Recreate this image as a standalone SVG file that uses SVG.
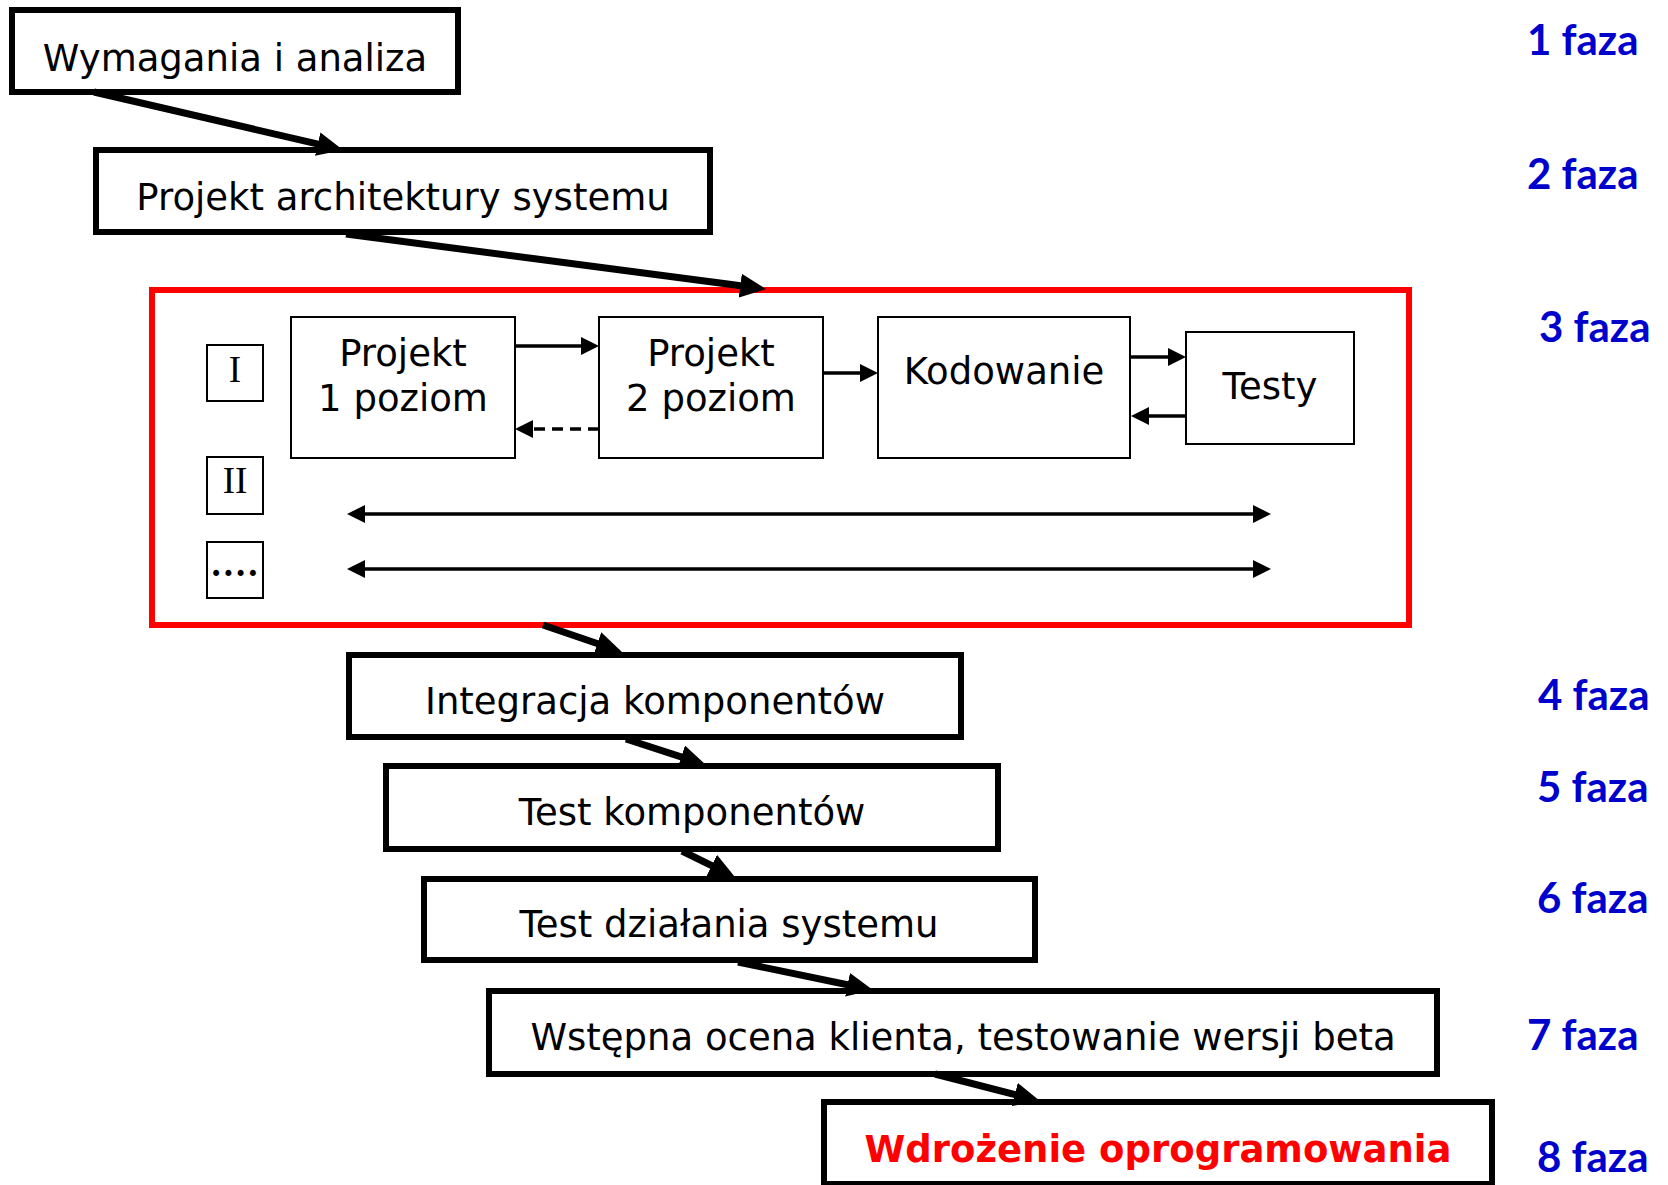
<svg xmlns="http://www.w3.org/2000/svg" width="1668" height="1185" viewBox="0 0 1668 1185">
  <style>
    .phase-box { fill: #ffffff; stroke: #000000; stroke-width: 6; }
    .inner-box { fill: #ffffff; stroke: #000000; stroke-width: 2; }
    .label { font-family: "DejaVu Sans", Verdana, sans-serif; font-size: 37px; fill: #000000; text-anchor: middle; }
    .roman { font-family: "Liberation Serif", "Times New Roman", serif; font-size: 37px; fill: #000000; text-anchor: middle; }
    .final { font-family: "DejaVu Sans", Verdana, sans-serif; font-size: 37px; font-weight: bold; fill: #ff0000; text-anchor: middle; }
    .faza { font-family: Lato, "Open Sans", sans-serif; font-size: 42px; font-weight: bold; fill: #0000cc; }
    .thick { stroke: #000000; stroke-width: 7; fill: none; marker-end: url(#headBig); }
    .thin { stroke: #000000; stroke-width: 3.5; fill: none; marker-end: url(#headSmall); }
    .both { stroke: #000000; stroke-width: 3.5; fill: none; marker-start: url(#headSmall); marker-end: url(#headSmall); }
    .dashed { stroke-dasharray: 11 7; }
  </style>
  <defs>
    <marker id="headBig" markerUnits="userSpaceOnUse" markerWidth="26" markerHeight="24" viewBox="0 0 26 24" refX="16" refY="12" orient="auto">
      <path d="M0,0 L26,12 L0,24 Z" fill="#000000"/>
    </marker>
    <marker id="headSmall" markerUnits="userSpaceOnUse" markerWidth="18" markerHeight="18" viewBox="0 0 18 18" refX="12" refY="9" orient="auto-start-reverse">
      <path d="M0,0 L18,9 L0,18 Z" fill="#000000"/>
    </marker>
  </defs>

  <rect width="1668" height="1185" fill="#ffffff"/>

  <!-- phase 1 -->
  <g id="wymagania">
    <rect class="phase-box" x="12" y="10" width="446" height="82"/>
    <text class="label" x="235" y="71">Wymagania i analiza</text>
  </g>

  <!-- phase 2 -->
  <g id="architektura">
    <rect class="phase-box" x="96" y="150" width="614" height="82"/>
    <text class="label" x="403" y="210">Projekt architektury systemu</text>
  </g>

  <!-- phase 3: iterative design / coding / testing -->
  <g id="iteracje">
    <rect x="152" y="290" width="1257" height="335" fill="#ffffff" stroke="#ff0000" stroke-width="6"/>
  </g>
  <g id="iteracja-1">
    <rect class="inner-box" x="207" y="345" width="56" height="56"/>
    <text class="roman" x="235" y="382">I</text>
  </g>
  <g id="iteracja-2">
    <rect class="inner-box" x="207" y="457" width="56" height="57"/>
    <text class="roman" x="235" y="493">II</text>
  </g>
  <g id="iteracja-n">
    <rect class="inner-box" x="207" y="542" width="56" height="56"/>
    <text class="roman" x="236" y="576" font-size="42" font-weight="bold" letter-spacing="3">....</text>
  </g>
  <g id="projekt-1">
    <rect class="inner-box" x="291" y="317" width="224" height="141"/>
    <text class="label" x="403" y="366">Projekt</text>
    <text class="label" x="403" y="411">1 poziom</text>
  </g>
  <g id="projekt-2">
    <rect class="inner-box" x="599" y="317" width="224" height="141"/>
    <text class="label" x="711" y="366">Projekt</text>
    <text class="label" x="711" y="411">2 poziom</text>
  </g>
  <g id="kodowanie">
    <rect class="inner-box" x="878" y="317" width="252" height="141"/>
    <text class="label" x="1004" y="384">Kodowanie</text>
  </g>
  <g id="testy">
    <rect class="inner-box" x="1186" y="332" width="168" height="112"/>
    <text class="label" x="1270" y="399">Testy</text>
  </g>

  <!-- phases 4-8 -->
  <g id="integracja">
    <rect class="phase-box" x="349" y="655" width="612" height="82"/>
    <text class="label" x="655" y="714">Integracja komponentów</text>
  </g>
  <g id="test-komponentow">
    <rect class="phase-box" x="386" y="766" width="612" height="83"/>
    <text class="label" x="692" y="825">Test komponentów</text>
  </g>
  <g id="test-systemu">
    <rect class="phase-box" x="424" y="879" width="611" height="81"/>
    <text class="label" x="729" y="937">Test działania systemu</text>
  </g>
  <g id="ocena-klienta">
    <rect class="phase-box" x="489" y="991" width="948" height="83"/>
    <text class="label" x="963" y="1050">Wstępna ocena klienta, testowanie wersji beta</text>
  </g>
  <g id="wdrozenie">
    <rect class="phase-box" x="824" y="1102" width="668" height="82"/>
    <text class="final" x="1158" y="1162">Wdrożenie oprogramowania</text>
  </g>

  <!-- connectors -->
  <g id="connectors">
    <line class="thick" x1="94" y1="92" x2="333.3" y2="147.7"/>
    <line class="thick" x1="346" y1="234" x2="756.1" y2="287.7"/>
    <line class="thick" x1="543" y1="625" x2="612.5" y2="648.8"/>
    <line class="thick" x1="626" y1="739" x2="696.5" y2="761.9"/>
    <line class="thick" x1="682" y1="851" x2="726" y2="872.6"/>
    <line class="thick" x1="738" y1="962" x2="863.2" y2="988"/>
    <line class="thick" x1="935" y1="1074" x2="1030.3" y2="1098.5"/>

    <line class="thin" x1="515" y1="346" x2="593" y2="346"/>
    <line class="thin dashed" x1="599" y1="429" x2="521" y2="429"/>
    <line class="thin" x1="823" y1="373" x2="872" y2="373"/>
    <line class="thin" x1="1131" y1="357" x2="1180" y2="357"/>
    <line class="thin" x1="1186" y1="416" x2="1137" y2="416"/>

    <line class="both" x1="353" y1="514" x2="1265" y2="514"/>
    <line class="both" x1="353" y1="569" x2="1265" y2="569"/>
  </g>

  <!-- phase numbers -->
  <g id="fazy">
    <text class="faza" x="1527" y="55">1 faza</text>
    <text class="faza" x="1527" y="189">2 faza</text>
    <text class="faza" x="1539" y="342">3 faza</text>
    <text class="faza" x="1538" y="710">4 faza</text>
    <text class="faza" x="1537" y="802">5 faza</text>
    <text class="faza" x="1537" y="913">6 faza</text>
    <text class="faza" x="1527" y="1050">7 faza</text>
    <text class="faza" x="1537" y="1172">8 faza</text>
  </g>
</svg>
